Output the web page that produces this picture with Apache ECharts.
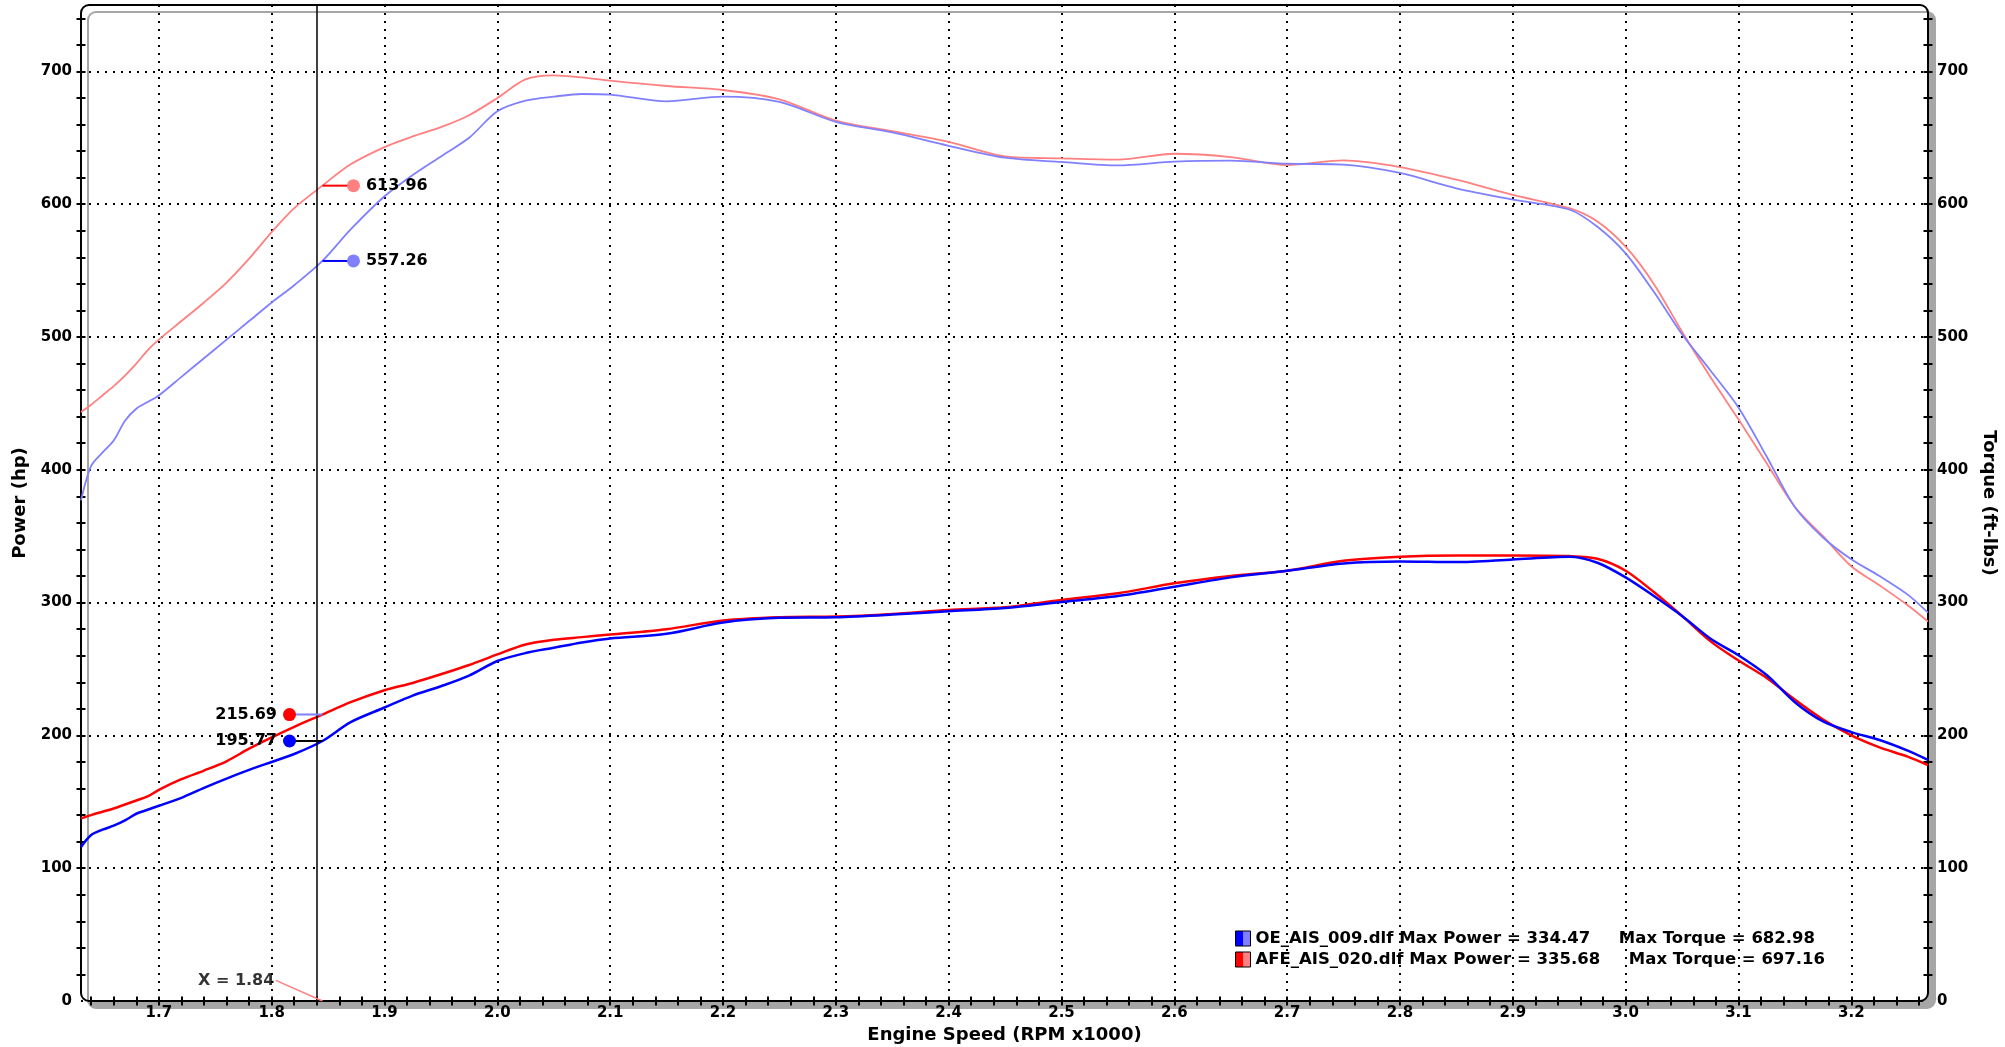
<!DOCTYPE html>
<html>
<head>
<meta charset="utf-8">
<script src="https://cdn.jsdelivr.net/npm/echarts@6/dist/echarts.min.js"></script>
<style>
html,body{margin:0;padding:0;background:#fff;}
#chart{width:2005px;height:1047px;}
</style>
</head>
<body>
<div id="chart"></div>
<script>
// ---------------- data ----------------
const rpm = [1.631, 1.64, 1.65, 1.66, 1.67, 1.68, 1.69, 1.70, 1.72, 1.74, 1.76, 1.78, 1.80, 1.82, 1.845, 1.87, 1.90, 1.925, 1.95, 1.975, 2.00, 2.025, 2.05, 2.075, 2.10, 2.15, 2.20, 2.25, 2.30, 2.35, 2.40, 2.45, 2.50, 2.55, 2.60, 2.65, 2.70, 2.75, 2.80, 2.85, 2.90, 2.95, 2.975, 3.00, 3.025, 3.05, 3.075, 3.10, 3.125, 3.15, 3.175, 3.20, 3.225, 3.25, 3.268];
const powerOE = [116, 125, 129, 132, 136, 141, 144, 147, 153, 160.5, 167.5, 174, 180, 186, 195.8, 210, 221, 230, 237, 245, 256, 262, 266, 270, 273, 276.5, 285, 288.5, 289, 291, 293.5, 296, 300.5, 305, 312, 319, 324, 329.5, 331, 330.5, 332.5, 334.5, 330, 319, 305, 290, 273, 260.4, 245.5, 225, 210.5, 202.5, 196.5, 188.5, 181.5];
const powerAFE = [137.5, 140, 142.5, 145, 148, 151, 154, 159, 167, 173.5, 180.5, 190, 198.5, 206.5, 215.7, 225, 234, 239.5, 246, 253, 261, 268.5, 272, 274, 276, 280, 286.5, 289, 289.5, 291.5, 294.5, 296.5, 302, 307, 314.5, 320, 324, 331.5, 334.5, 335.5, 335.5, 335, 333, 324, 308, 290, 271, 256.4, 243.3, 227, 212, 200, 191, 184, 177.6];
const torqueOE = [377, 403, 413, 422, 437, 446, 451, 456, 470, 484, 498, 512, 526, 539, 557.3, 581, 606, 622, 636, 650, 670, 678, 681, 683, 682.5, 677.5, 681, 677, 662, 654, 644, 635, 631.8, 629.2, 632, 632.8, 630.5, 629.8, 623.5, 612, 603.5, 596, 583, 563, 534, 502, 475, 447, 410, 372, 349, 332.6, 320, 306, 292.4];
const torqueAFE = [443.6, 449, 456, 463, 471, 480, 490, 498, 512, 526, 541, 559, 579, 597, 614, 630, 643, 651, 658, 667, 680, 694, 697, 695.5, 693, 689, 686, 679, 663, 655, 647, 636, 634.5, 633.5, 638, 635.5, 629.5, 633, 628, 618.5, 607, 597, 587, 568, 540, 504, 470, 438, 405, 372, 350, 327.4, 313, 298, 285.8];

const xMajorTicks = [1.7, 1.8, 1.9, 2.0, 2.1, 2.2, 2.3, 2.4, 2.5, 2.6, 2.7, 2.8, 2.9, 3.0, 3.1, 3.2];
const yMajorTicks = [0, 100, 200, 300, 400, 500, 600, 700];

const fileNames = ['OE_AIS_009.dlf', 'AFE_AIS_020.dlf'];
const maxPower = [334.47, 335.68];
const maxTorque = [682.98, 697.16];

const cursorRpm = 1.845;
const cursorText = 'X = 1.84';
const readTorque = [613.96, 557.26];   // AFE, OE
const readPower = [215.69, 195.77];    // AFE, OE

// ---------------- axis decoration ----------------
const xMinorTicks = [];
for (let i = 82; i <= 163; i++) xMinorTicks.push(+(i * 0.02).toFixed(2));
const yMinorTicks = [];
for (let v = 20; v <= 740; v += 20) yMinorTicks.push(v);

const FONT = 'DejaVu Sans';
const XMIN = 1.631, XMAX = 3.268, YMIN = 0, YMAX = 750;
const dotted = {color: '#000', width: 2, type: [2, 6]};
const tickStyle = {color: '#000', width: 2};
const labelFont = {fontFamily: FONT, fontWeight: 'bold', fontSize: 15, color: '#000'};
const nameFont = {fontFamily: FONT, fontWeight: 'bold', fontSize: 18, color: '#000'};

function minorX(inside) {
  return {type: 'value', position: 'bottom', min: XMIN, max: XMAX,
    axisLine: {show: false}, splitLine: {show: false}, axisLabel: {show: false},
    axisTick: {show: true, inside: inside, length: 4.5, lineStyle: tickStyle, customValues: xMinorTicks}};
}
function minorY(pos, inside) {
  return {type: 'value', position: pos, min: YMIN, max: YMAX,
    axisLine: {show: false}, splitLine: {show: false}, axisLabel: {show: false},
    axisTick: {show: true, inside: inside, length: 4.5, lineStyle: tickStyle, customValues: yMinorTicks}};
}

const legendNames = fileNames.map((f, i) =>
  f + ' Max Power = ' + maxPower[i].toFixed(2) + '     Max Torque = ' + maxTorque[i].toFixed(2));

function split(c1, c2) {
  return {type: 'linear', x: 0, y: 0, x2: 1, y2: 0, colorStops: [
    {offset: 0, color: c1}, {offset: 0.5, color: c1}, {offset: 0.5, color: c2}, {offset: 1, color: c2}]};
}

const zip = (xs, ys) => xs.map((x, i) => [x, ys[i]]);

const torqueDotX = 1.8725, powerDotX = 1.8158;
const dotLabel = {fontFamily: FONT, fontWeight: 'bold', fontSize: 16, color: '#000'};

function connector(y, x2, color) {
  return {type: 'line', xAxisIndex: 0, yAxisIndex: 0, data: [[cursorRpm, y], [x2, y]],
    showSymbol: false, symbol: 'none', lineStyle: {color: color, width: 2}, z: 5, silent: true};
}
function dot(y, x, color, pos) {
  return {type: 'scatter', xAxisIndex: 0, yAxisIndex: 0, data: [[x, y]], symbolSize: 13,
    itemStyle: {color: color, opacity: 1}, z: 6, silent: true,
    label: Object.assign({show: true, position: pos, distance: 6, formatter: y.toFixed(2)}, dotLabel)};
}
function curve(name, yIdx, data, color, width, z) {
  return {name: name, type: 'line', xAxisIndex: 0, yAxisIndex: yIdx, data: data,
    showSymbol: false, smooth: 0.3, lineStyle: {color: color, width: width}, itemStyle: {color: color}, z: z, silent: true};
}

const chart = echarts.init(document.getElementById('chart'), null, {renderer: 'canvas'});
const powerOESeries = curve(legendNames[0], 0, zip(rpm, powerOE), '#0000ff', 2.5, 3);
powerOESeries.markLine = {silent: true, symbol: 'none', label: {show: false}, z: 4,
  lineStyle: {color: '#000', width: 1.5, type: 'solid'}, data: [{xAxis: cursorRpm}]};

chart.setOption({
  animation: false,
  backgroundColor: '#fff',
  grid: {left: 81, right: 77, top: 5, bottom: 46, containLabel: false, outerBoundsMode: 'none'},
  graphic: {elements: [{
    type: 'rect', z: -100, silent: true,
    shape: {x: 81, y: 5, width: 1847, height: 996, r: 8},
    style: {fill: '#fff', stroke: '#000', lineWidth: 2, shadowColor: '#a6a6a6', shadowOffsetX: 7, shadowOffsetY: 7, shadowBlur: 0}
  }]},
  legend: {
    left: 1230, top: 925, orient: 'vertical', itemWidth: 15, itemHeight: 15, itemGap: 4,
    icon: 'rect', selectedMode: false,
    textStyle: {fontFamily: FONT, fontWeight: 'bold', fontSize: 16.5, color: '#000', lineHeight: 16},
    data: [
      {name: legendNames[0], itemStyle: {color: split('#0000ff', '#8080ff'), borderColor: '#000', borderWidth: 1}},
      {name: legendNames[1], itemStyle: {color: split('#ff0000', '#ff8080'), borderColor: '#000', borderWidth: 1}}
    ]
  },
  xAxis: [
    {type: 'value', position: 'bottom', min: XMIN, max: XMAX,
      name: 'Engine Speed (RPM x1000)', nameLocation: 'middle', nameGap: 23, nameTextStyle: nameFont,
      axisLine: {show: false},
      axisTick: {show: false, customValues: xMajorTicks},
      axisLabel: Object.assign({show: true, margin: 5, customValues: xMajorTicks, formatter: v => v.toFixed(1)}, labelFont),
      splitLine: {show: true, lineStyle: dotted}},
    minorX(false),
    minorX(true)
  ],
  yAxis: [
    {type: 'value', position: 'left', min: YMIN, max: YMAX,
      name: 'Power (hp)', nameLocation: 'middle', nameGap: 48, nameTextStyle: nameFont,
      axisLine: {show: false},
      axisTick: {show: false, customValues: yMajorTicks},
      axisLabel: Object.assign({show: true, margin: 9, customValues: yMajorTicks, formatter: v => String(v)}, labelFont),
      splitLine: {show: true, lineStyle: dotted}},
    minorY('left', false),
    minorY('left', true),
    {type: 'value', position: 'right', min: YMIN, max: YMAX,
      name: 'Torque (ft-lbs)', nameLocation: 'middle', nameGap: 47, nameRotate: -90, nameTextStyle: nameFont,
      axisLine: {show: false},
      axisTick: {show: false, customValues: yMajorTicks},
      axisLabel: Object.assign({show: true, margin: 9, customValues: yMajorTicks, formatter: v => String(v)}, labelFont),
      splitLine: {show: false}},
    minorY('right', false),
    minorY('right', true)
  ],
  series: [
    curve('Torque AFE', 3, zip(rpm, torqueAFE), '#ff8080', 1.8, 2),
    curve('Torque OE', 3, zip(rpm, torqueOE), '#8080ff', 1.8, 2),
    curve(legendNames[1], 0, zip(rpm, powerAFE), '#ff0000', 2.5, 3),
    powerOESeries,
    connector(readTorque[0], torqueDotX, '#ff0000'),
    connector(readTorque[1], torqueDotX, '#0000ff'),
    connector(readPower[0], powerDotX, '#8080ff'),
    connector(readPower[1], powerDotX, '#000000'),
    dot(readTorque[0], torqueDotX, '#ff8080', 'right'),
    dot(readTorque[1], torqueDotX, '#8080ff', 'right'),
    dot(readPower[0], powerDotX, '#ff0000', 'left'),
    dot(readPower[1], powerDotX, '#0000ff', 'left'),
    {type: 'line', xAxisIndex: 0, yAxisIndex: 0, data: [[1.8037, 15.5], [cursorRpm, 0]],
      showSymbol: false, symbol: 'none', lineStyle: {color: '#ff8080', width: 1.5}, z: 5, silent: true},
    {type: 'scatter', xAxisIndex: 0, yAxisIndex: 0, data: [[1.8037, 15.5]], symbolSize: 1,
      itemStyle: {color: 'rgba(0,0,0,0)'}, z: 6, silent: true,
      label: Object.assign({show: true, position: 'left', distance: 1, formatter: cursorText}, dotLabel)}
  ]
});
</script>
</body>
</html>
